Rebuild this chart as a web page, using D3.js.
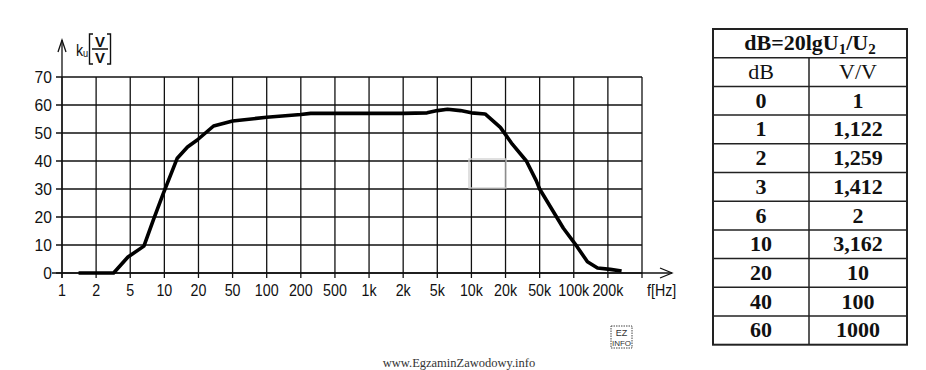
<!DOCTYPE html>
<html>
<head>
<meta charset="utf-8">
<script src="https://cdn.jsdelivr.net/npm/d3@7"></script>
<style>
  body { margin: 0; background: #fff; }
  svg { display: block; }
</style>
</head>
<body>
<div id="chart"></div>
<script>
// charakterystyka amplitudowa wzmacniacza + tabela dB

const width = 926;
const height = 370;

// oś częstotliwości (1-2-5)
const freqTicks = [1, 2, 5, 10, 20, 50, 100, 200, 500, 1e3, 2e3, 5e3, 1e4, 2e4, 5e4, 1e5, 2e5, 5e5];
const freqLabels = ["1", "2", "5", "10", "20", "50", "100", "200", "500", "1k", "2k", "5k", "10k", "20k", "50k", "100k", "200k", ""];
const kuTicks = [0, 10, 20, 30, 40, 50, 60, 70];

const curveFreq = [1.4, 3.2, 4.7, 6.6, 8, 9.7, 13, 16, 19.5, 30, 50, 100, 200, 260, 500, 1000, 2000, 3800, 5000, 6150, 8000, 10000, 13200, 18000, 24000, 35000, 45600, 50000, 81000, 107000, 132000, 162000, 213000, 289000];
const curveKu   = [0, 0, 5.7, 9.6, 19, 28, 41, 45, 47.5, 52.5, 54.3, 55.6, 56.6, 57, 57, 57, 57, 57.2, 58, 58.5, 58, 57.2, 56.8, 52, 46, 40, 33, 30, 16, 9.4, 4, 1.8, 1.3, 0.7];

// tabela
const colHeads = ["dB", "V/V"];
const dbValues = ["0", "1", "2", "3", "6", "10", "20", "40", "60"];
const vvValues = ["1", "1,122", "1,259", "1,412", "2", "3,162", "10", "100", "1000"];

const svg = d3.select("#chart")
  .append("svg")
  .attr("width", width)
  .attr("height", height);

const pLeft = 62, pRight = 642, pTop = 77, pBottom = 273;
const step = (pRight - pLeft) / (freqTicks.length - 1);

const x = d3.scaleLog()
  .domain(freqTicks)
  .range(freqTicks.map((d, i) => pLeft + i * step));

const y = d3.scaleLinear()
  .domain([0, 70])
  .range([pBottom, pTop]);

const ink = "#111";
const sans = "'Liberation Sans', Arial, sans-serif";
const squeeze = 0.84; // czcionka w oryginale jest węższa

// siatka
const grid = svg.append("g").attr("stroke", ink).attr("stroke-width", 1.3);
grid.selectAll("line.v")
  .data(freqTicks)
  .enter().append("line")
  .attr("x1", d => x(d)).attr("x2", d => x(d))
  .attr("y1", y(70)).attr("y2", y(0) + 5);
grid.selectAll("line.h")
  .data(kuTicks)
  .enter().append("line")
  .attr("x1", pLeft - 6).attr("x2", pRight)
  .attr("y1", d => y(d)).attr("y2", d => y(d));

// osie ze strzałkami
svg.append("line")
  .attr("x1", pLeft - 10).attr("x2", 672)
  .attr("y1", y(0)).attr("y2", y(0))
  .attr("stroke", ink).attr("stroke-width", 1.3);
svg.append("path")
  .attr("d", `M660,${y(0) - 5} L672,${y(0)} L660,${y(0) + 5}`)
  .attr("fill", "none").attr("stroke", ink).attr("stroke-width", 1.3);
svg.append("line")
  .attr("x1", pLeft).attr("x2", pLeft)
  .attr("y1", 40).attr("y2", y(0) + 5)
  .attr("stroke", ink).attr("stroke-width", 1.3);
svg.append("path")
  .attr("d", `M${pLeft - 4},52 L${pLeft},40 L${pLeft + 4},52`)
  .attr("fill", "none").attr("stroke", ink).attr("stroke-width", 1.3);

// etykiety osi Y
svg.append("g")
  .selectAll("text")
  .data(kuTicks)
  .enter().append("text")
  .attr("transform", d => `translate(${pLeft - 10},${y(d) + 6}) scale(0.92,1)`)
  .attr("text-anchor", "end")
  .attr("font-family", sans).attr("font-size", 17).attr("fill", ink)
  .text(d => d);

// etykiety osi X
svg.append("g")
  .selectAll("text")
  .data(freqTicks)
  .enter().append("text")
  .attr("transform", d => `translate(${x(d)},296) scale(${squeeze},1)`)
  .attr("text-anchor", "middle")
  .attr("font-family", sans).attr("font-size", 17).attr("fill", ink)
  .text((d, i) => freqLabels[i]);

svg.append("text")
  .attr("transform", `translate(647,296) scale(${squeeze},1)`)
  .attr("font-family", sans).attr("font-size", 17).attr("fill", ink)
  .text("f[Hz]");

// opis osi Y: ku [V/V]
const ylab = svg.append("g").attr("font-family", sans).attr("fill", ink);
ylab.append("text").attr("transform", `translate(76,56) scale(${squeeze},1)`).attr("font-size", 17).text("k");
ylab.append("text").attr("transform", `translate(83,57) scale(${squeeze},1)`).attr("font-size", 11).text("u");
ylab.append("path")
  .attr("d", "M93,34 L89.5,34 L89.5,64 L93,64 M107,34 L110.5,34 L110.5,64 L107,64 M92,49 L108,49")
  .attr("fill", "none").attr("stroke", ink).attr("stroke-width", 1.4);
ylab.append("text").attr("x", 100).attr("y", 47).attr("text-anchor", "middle").attr("font-size", 15).attr("font-weight", "bold").text("V");
ylab.append("text").attr("x", 100).attr("y", 63).attr("text-anchor", "middle").attr("font-size", 15).attr("font-weight", "bold").text("V");

// ślad artefaktu
svg.append("rect")
  .attr("x", 469).attr("y", 159).attr("width", 37).attr("height", 29)
  .attr("fill", "none").attr("stroke", "#d0d0d0").attr("stroke-width", 1.3);

// krzywa
const line = d3.line()
  .x(d => x(d[0]))
  .y(d => y(d[1]));

svg.append("path")
  .datum(curveFreq.map((f, i) => [f, curveKu[i]]))
  .attr("d", line)
  .attr("fill", "none")
  .attr("stroke", "#000")
  .attr("stroke-width", 3.6)
  .attr("stroke-linejoin", "round");

// tabela
const tLeft = 713, tRight = 907, tMid = 809, tTop = 29, rowH = 28.7;
const serif = "'Liberation Serif', 'Times New Roman', serif";
const nRows = dbValues.length + 2;
const tab = svg.append("g");

tab.selectAll("line.row")
  .data(d3.range(1, nRows))
  .enter().append("line")
  .attr("x1", tLeft).attr("x2", tRight)
  .attr("y1", d => tTop + d * rowH).attr("y2", d => tTop + d * rowH)
  .attr("stroke", "#222").attr("stroke-width", 1.5);
tab.append("line")
  .attr("x1", tMid).attr("x2", tMid)
  .attr("y1", tTop + rowH).attr("y2", tTop + nRows * rowH)
  .attr("stroke", "#222").attr("stroke-width", 1.5);
tab.append("rect")
  .attr("x", tLeft).attr("y", tTop)
  .attr("width", tRight - tLeft).attr("height", nRows * rowH)
  .attr("fill", "none").attr("stroke", "#222").attr("stroke-width", 2);

const title = tab.append("text")
  .attr("x", (tLeft + tRight) / 2).attr("y", tTop + rowH / 2 + 7)
  .attr("text-anchor", "middle")
  .attr("font-family", serif).attr("font-weight", "bold").attr("font-size", 22)
  .attr("fill", "#111");
title.append("tspan").text("dB=20lgU");
title.append("tspan").attr("font-size", 15).attr("dy", 4).text("1");
title.append("tspan").attr("dy", -4).text("/U");
title.append("tspan").attr("font-size", 15).attr("dy", 4).text("2");

tab.selectAll("text.head")
  .data(colHeads)
  .enter().append("text")
  .attr("x", (d, i) => i === 0 ? (tLeft + tMid) / 2 : (tMid + tRight) / 2)
  .attr("y", tTop + rowH * 1.5 + 7)
  .attr("text-anchor", "middle")
  .attr("font-family", serif).attr("font-size", 22).attr("fill", "#111")
  .text(d => d);

tab.selectAll("text.db")
  .data(dbValues)
  .enter().append("text")
  .attr("x", (tLeft + tMid) / 2)
  .attr("y", (d, i) => tTop + rowH * (i + 2.5) + 7)
  .attr("text-anchor", "middle")
  .attr("font-family", serif).attr("font-weight", "bold").attr("font-size", 22).attr("fill", "#111")
  .text(d => d);

tab.selectAll("text.vv")
  .data(vvValues)
  .enter().append("text")
  .attr("x", (tMid + tRight) / 2)
  .attr("y", (d, i) => tTop + rowH * (i + 2.5) + 7)
  .attr("text-anchor", "middle")
  .attr("font-family", serif).attr("font-weight", "bold").attr("font-size", 22).attr("fill", "#111")
  .text(d => d);

// logo i stopka
const logo = svg.append("g").attr("font-family", sans).attr("fill", "#333").attr("font-size", 9);
logo.append("rect")
  .attr("x", 611).attr("y", 326).attr("width", 21).attr("height", 22)
  .attr("fill", "none").attr("stroke", "#444").attr("stroke-width", 1).attr("stroke-dasharray", "1.5,1");
logo.append("text").attr("x", 621.5).attr("y", 336).attr("text-anchor", "middle").text("EZ");
logo.append("text").attr("x", 621.5).attr("y", 346).attr("text-anchor", "middle").attr("font-size", 8).text("INFO");

svg.append("text")
  .attr("x", 459).attr("y", 367)
  .attr("text-anchor", "middle")
  .attr("font-family", serif).attr("font-size", 12.5).attr("fill", "#333")
  .text("www.EgzaminZawodowy.info");
</script>
</body>
</html>
